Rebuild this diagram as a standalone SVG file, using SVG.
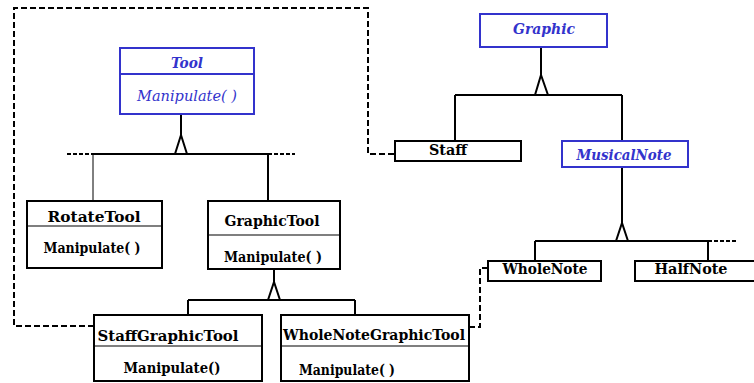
<svg xmlns="http://www.w3.org/2000/svg" width="754" height="383" viewBox="0 0 754 383">
<style>
.bg{fill:#ffffff}
.box{fill:#ffffff;stroke:#000;stroke-width:2}
.abox{fill:#ffffff;stroke:#3333cc;stroke-width:2}
.div{stroke:#000;stroke-width:1.2}
.ln{fill:none;stroke:#000;stroke-width:2}
.thin{fill:none;stroke:#000;stroke-width:1}
.dash{fill:none;stroke:#000;stroke-width:2;stroke-dasharray:6 3}
.dot{fill:none;stroke:#000;stroke-width:2;stroke-dasharray:4 2}
.t{font-weight:bold;fill:#000}
.a{font-weight:bold;font-style:italic;fill:#3333cc}
.ai{font-style:italic;fill:#3333cc}
</style>
<rect class="bg" x="0" y="0" width="754" height="383"/>
<g id="connectors">
  <path class="dash" d="M94,326 H14 V8 H368 V154 H395"/>
  <path class="dash" d="M469,327 H480 V268 H488"/>
  <path class="ln" d="M181,114 V135 M175,154 L181,135 L187,154 M93,154 H268 M268,154 V201"/>
  <path class="thin" d="M93,154 V201"/>
  <path class="dot" d="M67,154 H93 M268,154 H295"/>
  <path class="ln" d="M541,47 V75 M535,95 L541,75 L548,95 M455,95 H622 M455,95 V141 M622,95 V141"/>
  <path class="ln" d="M274,269 V282 M268,300 L274,282 L280,300 M188,300 H355 M188,300 V315 M355,300 V315"/>
  <path class="ln" d="M622,167 V223 M616,241 L622,223 L628,241 M535,241 H708 M535,241 V261 M708,241 V261"/>
  <path class="dot" d="M708,241 H736"/>
</g>
<g font-family="DejaVu Serif, Liberation Serif, serif" font-size="14" text-anchor="middle">
<g id="Tool">
  <rect class="abox" x="120" y="48" width="134" height="66"/>
  <line x1="120" y1="74" x2="254" y2="74" stroke="#3333cc" stroke-width="2"/>
  <text class="a" x="187" y="68" textLength="32" lengthAdjust="spacingAndGlyphs">Tool</text>
  <text class="ai" x="187" y="101" textLength="100" lengthAdjust="spacingAndGlyphs">Manipulate( )</text>
</g>
<g id="Graphic">
  <rect class="abox" x="480" y="14" width="127" height="33"/>
  <text class="a" x="544" y="34" textLength="62" lengthAdjust="spacingAndGlyphs">Graphic</text>
</g>
<g id="Staff">
  <rect class="box" x="395" y="141" width="126" height="20"/>
  <text class="t" x="448" y="155" textLength="38" lengthAdjust="spacingAndGlyphs">Staff</text>
</g>
<g id="MusicalNote">
  <rect class="abox" x="562" y="141" width="126" height="26"/>
  <text class="a" x="624" y="160" textLength="95" lengthAdjust="spacingAndGlyphs">MusicalNote</text>
</g>
<g id="RotateTool">
  <rect class="box" x="27" y="201" width="135" height="67"/>
  <line class="div" x1="27" y1="226" x2="162" y2="226"/>
  <text class="t" x="94" y="222" textLength="93" lengthAdjust="spacingAndGlyphs">RotateTool</text>
  <text class="t" x="92" y="253" textLength="97" lengthAdjust="spacingAndGlyphs">Manipulate( )</text>
</g>
<g id="GraphicTool">
  <rect class="box" x="208" y="201" width="132" height="68"/>
  <line class="div" x1="208" y1="235" x2="340" y2="235"/>
  <text class="t" x="272" y="226" textLength="95" lengthAdjust="spacingAndGlyphs">GraphicTool</text>
  <text class="t" x="273" y="262" textLength="98" lengthAdjust="spacingAndGlyphs">Manipulate( )</text>
</g>
<g id="StaffGraphicTool">
  <rect class="box" x="94" y="315" width="168" height="66"/>
  <line class="div" x1="94" y1="346" x2="262" y2="346"/>
  <text class="t" x="168" y="341" textLength="141" lengthAdjust="spacingAndGlyphs">StaffGraphicTool</text>
  <text class="t" x="172" y="373" textLength="97" lengthAdjust="spacingAndGlyphs">Manipulate()</text>
</g>
<g id="WholeNoteGraphicTool">
  <rect class="box" x="281" y="315" width="188" height="66"/>
  <line class="div" x1="281" y1="346" x2="469" y2="346"/>
  <text class="t" x="374" y="340" textLength="182" lengthAdjust="spacingAndGlyphs">WholeNoteGraphicTool</text>
  <text class="t" x="347" y="375" textLength="96" lengthAdjust="spacingAndGlyphs">Manipulate( )</text>
</g>
<g id="WholeNote">
  <rect class="box" x="488" y="261" width="113" height="20"/>
  <text class="t" x="545" y="274" textLength="85" lengthAdjust="spacingAndGlyphs">WholeNote</text>
</g>
<g id="HalfNote">
  <rect class="box" x="635" y="261" width="125" height="20"/>
  <text class="t" x="691" y="274" textLength="73" lengthAdjust="spacingAndGlyphs">HalfNote</text>
</g>
</g>
</svg>
